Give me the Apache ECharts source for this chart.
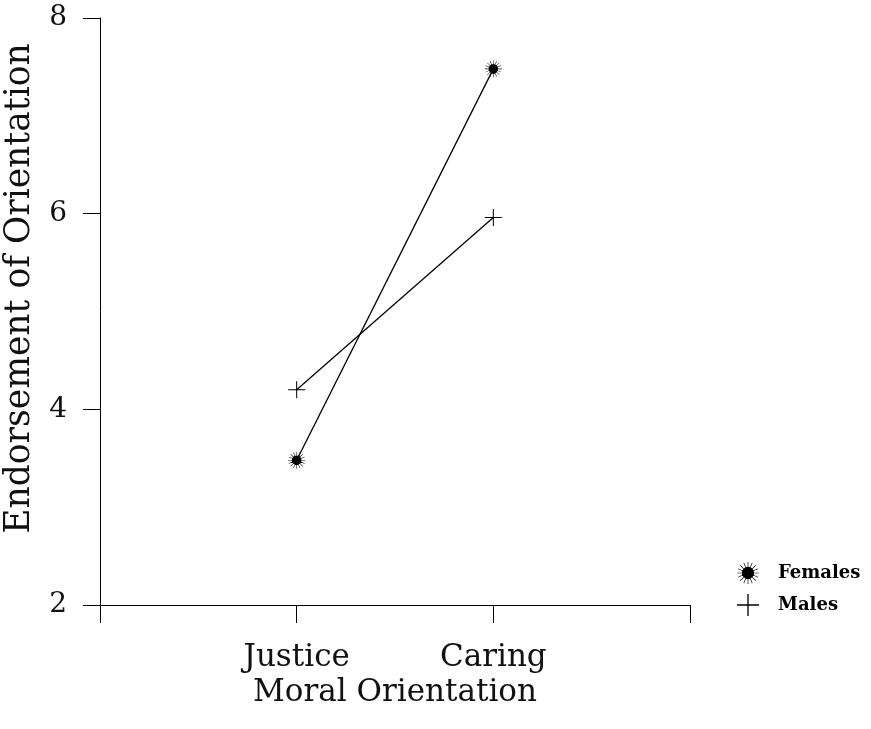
<!DOCTYPE html>
<html><head><meta charset="utf-8">
<script src="https://cdn.jsdelivr.net/npm/echarts@6/dist/echarts.min.js"></script>
<style>html,body{margin:0;padding:0;background:#fff}#c{width:871px;height:729px}</style>
</head><body><div id="c"></div>
<script>
const categories = ['Justice', 'Caring'];
const females = [3.48, 7.48];
const males = [4.2, 5.96];
const yTicks = [2, 4, 6, 8];

const FONT = '"DejaVu Serif", "Liberation Serif", serif';
const starPath = (function(){
  let d = '';
  const n = 16;
  for (let i = 0; i < n; i++) {
    const a = i * Math.PI * 2 / n;
    const w = 0.09;
    const r1 = 0.2, r2 = 1;
    const p = (r, ang) => [(50 + 50 * r * Math.cos(ang)).toFixed(2), (50 + 50 * r * Math.sin(ang)).toFixed(2)];
    const A = p(r1, a - w * 1.6), B = p(r2, a - w * 0.35), C = p(r2, a + w * 0.35), D = p(r1, a + w * 1.6);
    d += 'M50,50L' + A.join(',') + 'L' + B.join(',') + 'L' + C.join(',') + 'L' + D.join(',') + 'Z';
  }
  d += 'M50,22A28,28 0 1,1 49.9,22Z';
  return 'path://M0,0M100,100' + d;
})();
const plusPath = 'path://M0,9.4h20v1.2h-20zM9.4,0h1.2v20h-1.2z';

const chart = echarts.init(document.getElementById('c'), null, {renderer: 'canvas'});
chart.setOption({
  backgroundColor: '#fff',
  animation: false,
  grid: {left: 100, right: 181, top: 18, bottom: 124, outerBoundsMode: 'none', containLabel: false},
  xAxis: {
    type: 'value', min: 0, max: 3, interval: 1,
    name: 'Moral Orientation', nameLocation: 'middle', nameGap: 70,
    nameTextStyle: {fontFamily: FONT, fontSize: 31, color: '#111'},
    axisLine: {show: true, onZero: false, lineStyle: {color: '#000', width: 1}},
    axisTick: {show: true, inside: false, length: 18, lineStyle: {color: '#000', width: 1}},
    splitLine: {show: false},
    axisLabel: {
      margin: 37, fontFamily: FONT, fontSize: 31, color: '#111',
      formatter: v => (v >= 1 && v <= categories.length && Number.isInteger(v)) ? categories[v - 1] : ''
    }
  },
  yAxis: {
    type: 'value', min: 2, max: 8, interval: 2,
    name: 'Endorsement of Orientation', nameLocation: 'middle', nameGap: 62, nameRotate: 90,
    nameTextStyle: {fontFamily: FONT, fontSize: 34.5, color: '#111', padding: [0, 0, 0, 46]},
    axisLine: {show: true, lineStyle: {color: '#000', width: 1}},
    axisTick: {show: true, length: 17, lineStyle: {color: '#000', width: 1}},
    splitLine: {show: false},
    axisLabel: {margin: 33, fontFamily: FONT, fontSize: 28, color: '#111',
      formatter: v => yTicks.includes(v) ? String(v) : ''}
  },
  legend: {
    orient: 'vertical', left: 737, top: 562, itemGap: 10, padding: 0,
    itemWidth: 22, itemHeight: 22, itemSymbolSize: 18,
    textStyle: {fontFamily: FONT, fontSize: 18, fontWeight: 'bold', color: '#000', padding: [0, 0, 0, 14]},
    data: [
      {name: 'Females', icon: starPath, itemStyle: {color: '#000'}},
      {name: 'Males', icon: plusPath, itemStyle: {color: '#000'}}
    ]
  },
  series: [
    {
      name: 'Females', type: 'line',
      data: females.map((v, i) => [i + 1, v]),
      symbol: starPath, symbolSize: 17, showSymbol: true,
      lineStyle: {color: '#000', width: 1.3},
      itemStyle: {color: '#000'}
    },
    {
      name: 'Males', type: 'line',
      data: males.map((v, i) => [i + 1, v]),
      symbol: plusPath, symbolSize: 17, showSymbol: true,
      lineStyle: {color: '#000', width: 1.3},
      itemStyle: {color: '#000'}
    }
  ]
});
</script>
</body></html>
